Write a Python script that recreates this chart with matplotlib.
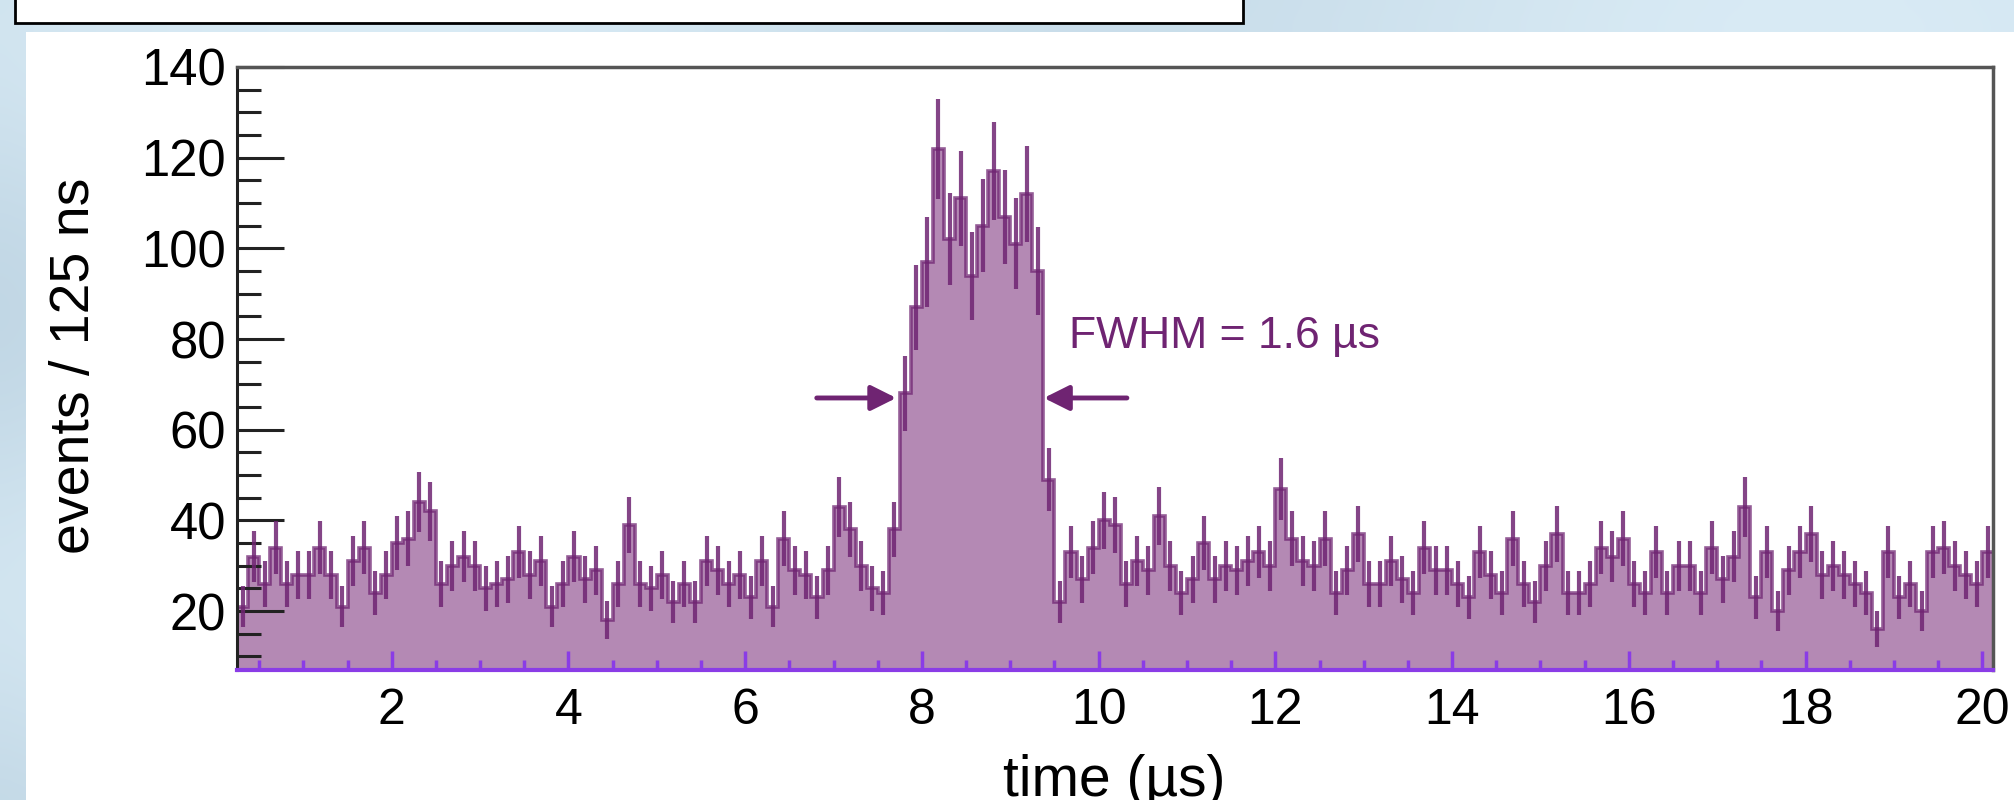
import numpy as np
import matplotlib
matplotlib.use("Agg")
import matplotlib.pyplot as plt
from matplotlib.patches import Rectangle
from matplotlib.ticker import MultipleLocator

plt.rcParams['font.family'] = ['Liberation Sans', 'DejaVu Sans']

# histogram: 125 ns bins starting at 0.25 us
bin_start = 0.25
bin_width = 0.125
counts = [
    21, 32, 26, 34, 26, 28, 28, 34, 28, 21, 31, 34, 24, 28, 35,
    36, 44, 42, 26, 30, 32, 30, 25, 26, 27, 33, 28, 31, 21, 26,
    32, 27, 29, 18, 26, 39, 26, 25, 28, 22, 26, 22, 31, 29, 26,
    28, 23, 31, 21, 36, 29, 28, 23, 29, 43, 38, 30, 25, 24,
    38, 68, 87, 97, 122, 102, 111, 94, 105, 117, 107, 101, 112, 95, 49, 22, 33,
    27, 34, 40, 39, 26, 31, 29, 41, 30, 24, 27, 35, 27, 30, 29, 31,
    33, 30, 47, 36, 31, 30, 36, 24, 29, 37, 26, 26, 31, 27, 24,
    34, 29, 29, 26, 23, 33, 28, 24, 36, 26, 22, 30, 37, 24, 24,
    26, 34, 32, 36, 26, 24, 33, 24, 30, 30, 24, 34, 27, 32, 43,
    23, 33, 20, 29, 33, 37, 28, 30, 28, 26, 24, 16, 33, 23, 26,
    20, 33, 34, 30, 28, 26, 33,
]
y_ticks = [20, 40, 60, 80, 100, 120, 140]
x_ticks = [2, 4, 6, 8, 10, 12, 14, 16, 18, 20]
fwhm_left = 7.71
fwhm_right = 9.38
fwhm_level = 67
fwhm_label = "FWHM = 1.6 µs"

counts = np.array(counts, dtype=float)
edges = bin_start + bin_width * np.arange(len(counts) + 1)
centers = 0.5 * (edges[:-1] + edges[1:])

fill_col = '#b489b4'
line_col = '#6f2472'
axis_violet = '#8a3ce6'

fig = plt.figure(figsize=(20.14, 8), dpi=100)

# slide background
bg = fig.add_axes([0, 0, 1, 1])
bg.set_axis_off()
yy, xx = np.mgrid[0:80, 0:200]
shade = 0.5 + 0.25 * np.sin(xx / 23.0) + 0.25 * np.sin(yy / 9.0 + 1.3)
c1 = np.array([0.73, 0.82, 0.88])
c2 = np.array([0.85, 0.92, 0.96])
img = c1 + (c2 - c1) * shade[..., None]
bg.imshow(img, extent=[0, 1, 0, 1], aspect='auto', interpolation='bicubic')
bg.set_xlim(0, 1)
bg.set_ylim(0, 1)
bg.add_patch(Rectangle((25.7 / 2014, 0), 1, 1 - 32 / 800,
                       facecolor='white', edgecolor='none'))
bg.add_patch(Rectangle((15.4 / 2014, 1 - 23 / 800), (1243 - 15.4) / 2014, 0.1,
                       facecolor='white', edgecolor='black', linewidth=2))

ax = fig.add_axes([237.1 / 2014, 1 - 670 / 800, (1993.3 - 237.1) / 2014, 603 / 800])
ax.stairs(counts, edges, fill=True, color=fill_col, baseline=0)
ax.stairs(counts, edges, color=line_col, linewidth=2.6, alpha=0.75, baseline=None)
ax.errorbar(centers, counts, yerr=np.sqrt(counts), fmt='none',
            ecolor=line_col, elinewidth=3.0, alpha=0.85, capsize=0)

ax.set_xlim(edges[0], edges[-1])
ax.set_ylim(7, 140)
ax.set_xticks(x_ticks)
ax.set_yticks(y_ticks)
ax.xaxis.set_minor_locator(MultipleLocator(0.5))
ax.yaxis.set_minor_locator(MultipleLocator(5))

ax.tick_params(axis='x', which='both', direction='in', colors=axis_violet,
               labelcolor='black', labelsize=36, pad=13, width=2.5)
ax.tick_params(axis='x', which='major', length=14)
ax.tick_params(axis='x', which='minor', length=7)
ax.tick_params(axis='y', which='both', direction='in', colors='#222222',
               labelcolor='black', labelsize=36.5, pad=8, width=2.2)
ax.tick_params(axis='y', which='major', length=34)
ax.tick_params(axis='y', which='minor', length=17)

ax.spines['bottom'].set_color(axis_violet)
ax.spines['bottom'].set_linewidth(3)
ax.spines['left'].set_color('#222222')
ax.spines['left'].set_linewidth(2.2)
for side in ['top', 'right']:
    ax.spines[side].set_color('#555555')
    ax.spines[side].set_linewidth(2.5)

# FWHM marker
arrow_style = dict(arrowstyle='-|>', color=line_col, lw=3.5, mutation_scale=38,
                   shrinkA=0, shrinkB=0)
ax.annotate('', xy=(fwhm_left, fwhm_level), xytext=(fwhm_left - 0.9, fwhm_level),
            arrowprops=arrow_style)
ax.annotate('', xy=(fwhm_right, fwhm_level), xytext=(fwhm_right + 0.94, fwhm_level),
            arrowprops=arrow_style)
ax.text(9.67, 80.5, fwhm_label, color=line_col, fontsize=32, va='center', ha='left')

fig.text(75 / 2014, 1 - 366 / 800, "events / 125 ns", rotation=90,
         ha='center', va='center', fontsize=40)
fig.text(1114 / 2014, 1 - 754 / 800, "time (µs)", ha='center', va='top', fontsize=41)

fig.savefig("out.png", dpi=100)
